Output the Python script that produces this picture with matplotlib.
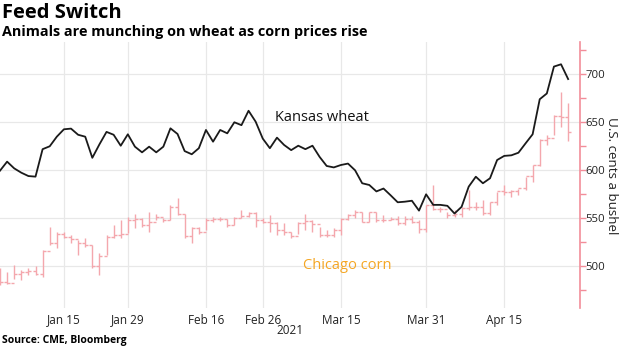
import matplotlib
matplotlib.use("Agg")
import matplotlib.pyplot as plt
from matplotlib.ticker import MultipleLocator

FONT = "Open Sans"

# Trading-day index tick labels
tick_idx = [9, 18, 29, 37, 48, 60, 71]
tick_labels = ["Jan 15", "Jan 29", "Feb 16", "Feb 26", "Mar 15", "Mar 31", "Apr 15"]

# Kansas wheat (US cents / bushel)
wheat = [599.6, 609, 602, 597.5, 594, 593.4, 622, 625, 635, 642.7,
         643.4, 637, 635, 613, 627, 640, 637, 625.6, 637.5, 624.6,
         618.7, 624.6, 618.7, 624.6, 643.7, 637.8, 620, 616.7, 623, 642,
         629.8, 642, 638.5, 650, 647, 662, 650.6, 633, 623, 634,
         626.4, 621, 625.6, 622, 625.6, 614, 604.5, 603, 605.5, 607,
         600, 586.5, 584.7, 578, 581, 574, 566.7, 567.3, 568.3, 558,
         575, 564, 564, 563, 555, 562, 583, 593.3, 586.5, 591.7,
         610.7, 615, 615.6, 618.3, 628, 637.5, 674, 680, 708, 710.4,
         695]

# Chicago corn OHLC bars
corn_high = [498, 494, 501, 496, 498, 500, 517, 541, 536, 536,
             533, 527.6, 530, 522, 514, 532.6, 543, 548, 551.7, 555,
             550, 556.5, 555, 550, 564, 571, 555, 541, 541, 550,
             551, 551, 549, 551, 558.6, 557, 557, 550, 553.5, 546.5,
             545, 536, 546.5, 555, 548, 541, 538, 539.6, 550, 555,
             558.6, 557, 557, 557, 553.5, 551.7, 552.4, 552.4, 552, 548,
             564, 584.7, 562, 557, 558.6, 562, 579.5, 567, 569, 567,
             577.8, 584.7, 579.5, 581, 593, 605.5, 633, 636.8, 657.6, 682,
             670]
corn_low = [480.5, 482, 487, 486, 491, 491, 489, 522, 519, 529,
            524, 512, 520.5, 498, 491, 512, 529.5, 529.5, 534.4, 540,
            541, 536, 548, 546, 548, 553.5, 529.5, 524, 534, 538,
            546, 547, 541, 543, 550, 551, 541, 545, 536, 532.6,
            532.6, 529, 534, 538, 536, 531, 531, 531, 532.6, 548,
            550, 546.5, 546.5, 546.5, 546.5, 548, 543, 543, 545, 534.4,
            536, 558.6, 557, 550, 551.7, 551.7, 558.6, 558.6, 553.5, 553.5,
            564, 574, 572.5, 574, 579.5, 588, 604, 626.4, 636.8, 645.4,
            630]
corn_close = [484, 483, 492, 494, 495, 492, 516, 524, 534, 531,
              528, 524, 522, 500, 511, 531, 532.6, 534, 548, 549,
              543, 546, 551, 548, 562, 554, 532, 539.6, 536, 548,
              549, 549, 543, 550, 552.4, 556, 548, 546, 544.7, 538,
              536, 532, 545, 547, 544, 533, 533, 538, 549, 553,
              557, 546.5, 557, 548, 548, 549, 544.7, 549, 546, 538.5,
              564, 559.4, 560, 553, 554.5, 561, 562, 562, 556, 567,
              578, 577, 578, 582, 594, 606, 631.5, 634, 657, 655,
              640]
corn_open = [corn_close[0] + 8] + corn_close[:-1]

WHEAT_C = "#1a1a1a"
CORN_C = "#f4a7ad"
SPINE_C = "#f28d99"
GRID_C = "#e8e8e8"

fig = plt.figure(figsize=(6.2, 3.48), dpi=100)
ax = fig.add_axes([0.0, 1 - 308 / 348, 579.5 / 620, (308 - 42) / 348])

x = list(range(len(wheat)))
xc = list(range(len(corn_close)))
w = 0.42
ax.vlines(xc, corn_low, corn_high, color=CORN_C, lw=1.0, zorder=2)
ax.hlines(corn_open, [i - w for i in xc], xc, color=CORN_C, lw=1.0, zorder=2)
ax.hlines(corn_close, xc, [i + w for i in xc], color=CORN_C, lw=1.0, zorder=2)
ax.plot(x, wheat, color=WHEAT_C, lw=1.3, zorder=3)

ax.set_xlim(0, 81.6)
ax.set_ylim(456.6, 733.6)

ax.set_xticks(tick_idx)
ax.set_xticklabels(tick_labels, fontfamily=FONT, fontsize=8.5, color="#222222")
ax.tick_params(axis="x", length=0, pad=4)

ax.yaxis.tick_right()
ax.yaxis.set_major_locator(MultipleLocator(50))
ax.yaxis.set_minor_locator(MultipleLocator(25))
ax.set_yticks([500, 550, 600, 650, 700])
ax.set_yticklabels(["500", "550", "600", "650", "700"], fontfamily=FONT,
                   fontsize=8.2, color="#222222")
ax.tick_params(axis="y", which="major", length=4, width=1, color=SPINE_C, pad=0.5)
ax.tick_params(axis="y", which="minor", length=4, width=1, color=SPINE_C)

fig.text(612 / 620, 1 - 176 / 348, "U.S. cents a bushel", rotation=270,
         fontfamily=FONT, fontsize=9.6, color="#222222", ha="center", va="center")

ax.grid(True, which="major", color=GRID_C, lw=0.9, zorder=0)
ax.set_axisbelow(True)
for s in ["left", "top", "bottom"]:
    ax.spines[s].set_visible(False)
ax.spines["right"].set_color(SPINE_C)
ax.spines["right"].set_linewidth(1.2)

ax.text(38.7, 654.5, "Kansas wheat", fontfamily=FONT, fontsize=10.5,
        color="#111111", ha="left", va="center")
ax.text(42.6, 501, "Chicago corn", fontfamily=FONT, fontsize=10.5,
        color="#f5a623", ha="left", va="center")

fig.text(0.5 * 579.5 / 620, 1 - 330 / 348, "2021", fontfamily=FONT, fontsize=8.5,
         color="#222222", ha="center", va="center")

fig.text(0.003, 1 - 13 / 348, "Feed Switch", fontfamily=FONT, fontweight="bold",
         fontsize=14.5, color="#000000", ha="left", va="center")
fig.text(0.003, 1 - 32 / 348, "Animals are munching on wheat as corn prices rise",
         fontfamily=FONT, fontweight="bold", fontsize=10.4, color="#000000",
         ha="left", va="center")
fig.text(0.003, 1 - 341 / 348, "Source: CME, Bloomberg", fontfamily=FONT,
         fontweight="bold", fontsize=7.5, color="#000000", ha="left", va="center")

fig.savefig("out.png", dpi=100)
